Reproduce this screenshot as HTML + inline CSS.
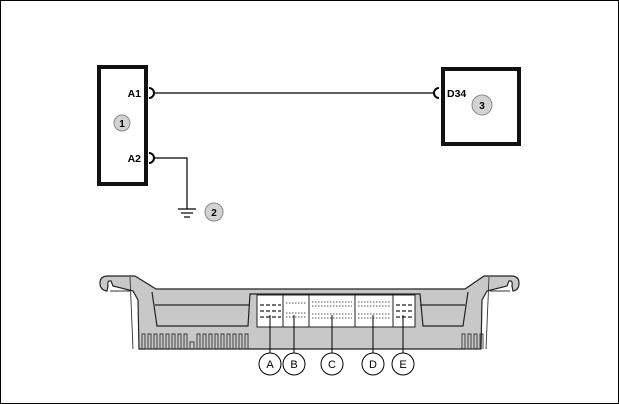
<!DOCTYPE html>
<html><head><style>
html,body{margin:0;padding:0;background:#fff}
svg{display:block}
text{font-family:"Liberation Sans",Arial,sans-serif}
</style></head><body>
<svg width="619" height="404" viewBox="0 0 619 404" xmlns="http://www.w3.org/2000/svg">
<rect x="0.5" y="0.5" width="618" height="403" fill="#fff" stroke="#000"/>
<!-- box 1 -->
<rect x="99" y="67" width="47" height="117" fill="#fff" stroke="#111" stroke-width="4"/>
<circle cx="122" cy="123" r="8" fill="#d3d3d3" stroke="#888" stroke-width="1"/>
<text x="122" y="127" font-size="10" font-weight="bold" text-anchor="middle">1</text>
<text x="141" y="97" font-size="10.5" font-weight="bold" text-anchor="end">A1</text>
<text x="141" y="162" font-size="10.5" font-weight="bold" text-anchor="end">A2</text>
<path d="M149 88 A5 5 0 0 1 149 98" fill="none" stroke="#000" stroke-width="2"/>
<path d="M149 153 A5 5 0 0 1 149 163" fill="none" stroke="#000" stroke-width="2"/>
<line x1="154" y1="93" x2="434" y2="93" stroke="#000" stroke-width="1.2"/>
<path d="M154 158 H187 V209" fill="none" stroke="#000" stroke-width="1.2"/>
<line x1="178" y1="209" x2="196" y2="209" stroke="#000" stroke-width="1.2"/>
<line x1="181" y1="213" x2="193" y2="213" stroke="#000" stroke-width="1.2"/>
<line x1="184" y1="217" x2="190" y2="217" stroke="#000" stroke-width="1.2"/>
<circle cx="214" cy="212" r="9" fill="#d3d3d3" stroke="#888"/>
<text x="214" y="216" font-size="10" font-weight="bold" text-anchor="middle">2</text>
<!-- box 3 -->
<rect x="443" y="69" width="76" height="75" fill="#fff" stroke="#111" stroke-width="4"/>
<path d="M439 88 A5 5 0 0 0 439 98" fill="none" stroke="#000" stroke-width="2"/>
<text x="447" y="97" font-size="10.5" font-weight="bold">D34</text>
<circle cx="482" cy="105" r="10" fill="#d3d3d3" stroke="#888"/>
<text x="482" y="109" font-size="10" font-weight="bold" text-anchor="middle">3</text>
<!-- ECU -->
<g stroke="#222" stroke-width="1.2" fill="#c8c8c8">
<path d="M135 276 L156 289 L465 289 L484 276 L511 276 Q519 276 519 283 Q519 290 513 291 L512 286 Q513 280 509 281 L507 286 L487 291 L482 300 L481 349 L139 349 L138 300 L133 291 L113 286 L111 281 Q107 280 108 286 L107 291 Q100 290 100 283 Q100 276 108 276 Z"/>
<path d="M152 292 L157 326 L248 326 L250 294 L420 294 L423 326 L463 326 L468 292" fill="none"/>
<line x1="155" y1="305" x2="250" y2="305"/>
<line x1="420" y1="305" x2="465" y2="305"/>
</g>
<g stroke="#333" stroke-width="0.9" fill="none">
<line x1="110" y1="291" x2="130" y2="291"/><line x1="490" y1="291" x2="510" y2="291"/>
<line x1="130" y1="277" x2="133" y2="349"/><line x1="489" y1="277" x2="486" y2="349"/>
<path d="M142 349 V334 h3 V349 h3 V334 h3 V349 h3 V334 h3 V349 h3 V334 h3 V349 h3 V334 h3 V349 h3 V334 h3 V349 h3 V334 h3 V349 h3 V334 h3 V349 h3 V342 h4 V349 h3 V334 h3 V349 h3 V334 h3 V349 h3 V334 h3 V349 h3 V334 h3 V349 h3 V334 h3 V349 h3 V334 h3 V349 h3 V334 h3 V349 h3 V334 h3 V349 h3 V334 h3 V349"/>
<path d="M462 349 V334 h3 V349 h3 V334 h3 V349 h3 V334 h3 V349 h3 V334 h3 V349"/>
</g>
<g stroke="#222" stroke-width="1" fill="#fff">
<rect x="257" y="295" width="26" height="32"/>
<rect x="283" y="295" width="26" height="32"/>
<rect x="309" y="295" width="46" height="32"/>
<rect x="355" y="295" width="38" height="32"/>
<rect x="393" y="295" width="22" height="32"/>
</g>
<g stroke="#555" stroke-width="1" stroke-dasharray="1.5 1.5">
<line x1="312" y1="302" x2="352" y2="302"/><line x1="312" y1="306" x2="352" y2="306"/>
<line x1="312" y1="314" x2="352" y2="314"/><line x1="312" y1="318" x2="352" y2="318"/>
<line x1="358" y1="302" x2="390" y2="302"/><line x1="358" y1="306" x2="390" y2="306"/>
<line x1="358" y1="314" x2="390" y2="314"/><line x1="358" y1="318" x2="390" y2="318"/>
<line x1="286" y1="303" x2="306" y2="303"/><line x1="286" y1="313" x2="306" y2="313"/><line x1="286" y1="317" x2="306" y2="317"/>
</g>
<g stroke="#222" stroke-width="1.2" stroke-dasharray="4 2">
<line x1="260" y1="305" x2="281" y2="305"/><line x1="260" y1="311" x2="281" y2="311"/><line x1="260" y1="317" x2="281" y2="317"/>
<line x1="396" y1="305" x2="413" y2="305"/><line x1="396" y1="311" x2="413" y2="311"/><line x1="396" y1="317" x2="413" y2="317"/>
</g>
<g stroke="#000" stroke-width="1" fill="#fff">
<line x1="270" y1="315" x2="270" y2="353"/><line x1="294" y1="315" x2="294" y2="353"/>
<line x1="332" y1="315" x2="332" y2="353"/><line x1="373" y1="315" x2="373" y2="353"/>
<line x1="403" y1="315" x2="403" y2="353"/>
<circle cx="270" cy="364" r="11"/><circle cx="294" cy="364" r="11"/>
<circle cx="332" cy="364" r="11"/><circle cx="373" cy="364" r="11"/>
<circle cx="403" cy="364" r="11"/>
</g>
<g font-size="11" text-anchor="middle">
<text x="270" y="368">A</text><text x="294" y="368">B</text><text x="332" y="368">C</text><text x="373" y="368">D</text><text x="403" y="368">E</text>
</g>
</svg>
</body></html>
